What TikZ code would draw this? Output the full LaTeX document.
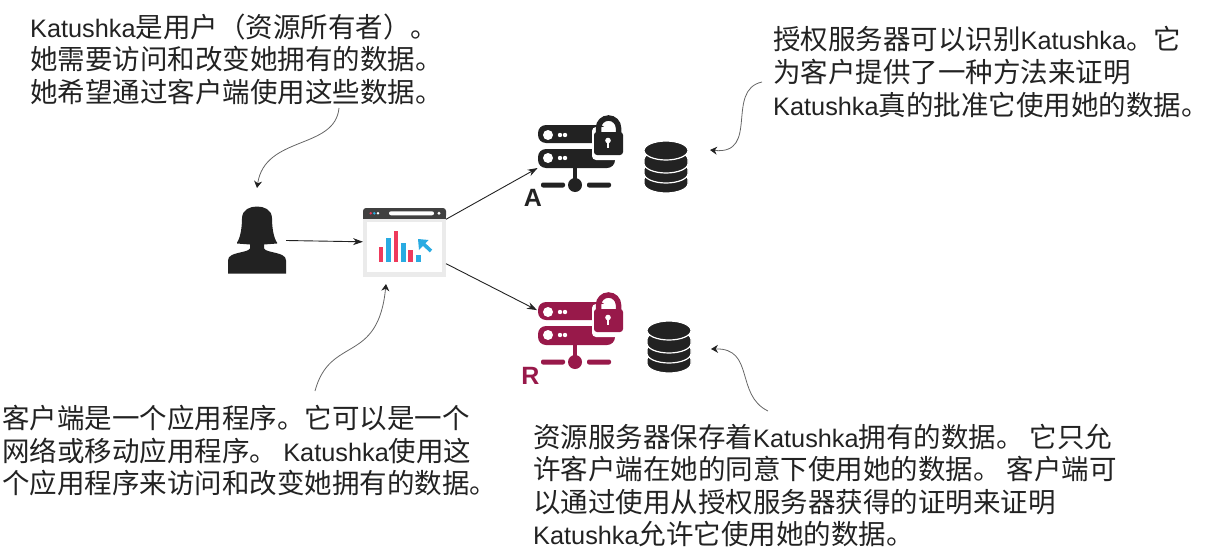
\documentclass[tikz,border=0pt]{standalone}
\usepackage{fontspec}
\usetikzlibrary{arrows.meta}
\setmainfont{Noto Sans CJK SC}
\newfontfamily\latfont[Scale=0.92]{Liberation Sans}
\newfontfamily\tagfont{Liberation Sans}
\newcommand{\kat}{{\latfont Katushka}}

\definecolor{inkgray}{HTML}{222222}
\definecolor{wine}{HTML}{98194A}
\definecolor{barpink}{HTML}{EE3A5C}
\definecolor{barblue}{HTML}{29ABE2}

\tikzset{
    note/.style={anchor=north west, inner sep=0pt, align=left, text=inkgray,
        font=\fontsize{27.5}{32.6}\selectfont},
    slot/.style={inner sep=0pt, outer sep=0pt},
    flow/.style={-{Stealth[length=10pt,width=7pt]}, inkgray, line width=0.9pt},
    remark/.style={-{Stealth[length=7pt,width=8pt,color=inkgray]}, black!60, line width=0.8pt},
    tag/.style={font=\fontsize{25}{25}\tagfont\bfseries, inner sep=0pt},
    pics/woman/.style={code={
        \fill[inkgray] (-20,36) .. controls (-17,32) and (-15,22) .. (-15,12)
            .. controls (-15,3) and (-7,0) .. (0,0)
            .. controls (7,0) and (15,3) .. (15,12)
            .. controls (15,22) and (17,32) .. (20,36) -- (20,37) -- (7,38) -- (7,42)
            .. controls (10,47) and (29,45) .. (29,54) -- (29,67) -- (-29,67) -- (-29,54)
            .. controls (-29,45) and (-10,47) .. (-7,42) -- (-7,38) -- (-20,37) -- cycle;
    }},
    pics/serverlock/.style={code={
        \fill[#1, rounded corners=8pt] (1,8) rectangle (70,26);
        \fill[#1, rounded corners=8pt] (1,32) rectangle (78,51);
        \foreach \y in {18,41} {
            \fill[white] (11,\y) circle (5);
            \fill[white] (23,\y) circle (2.2);
            \fill[white] (28,\y) circle (2.2);
        }
        \fill[#1] (36,51) rectangle (40,68);
        \fill[#1] (38,68) circle (7);
        \fill[#1, rounded corners=2pt] (4,65.5) rectangle (28,70.5);
        \fill[#1, rounded corners=2pt] (50,65.5) rectangle (74,70.5);
        \fill[white, rounded corners=4pt] (55,10) rectangle (92,43);
        \draw[#1, line width=5.5pt] (61.5,16) -- (61.5,11) arc[start angle=180, end angle=360, radius=10] -- (81.5,16);
        \fill[#1, rounded corners=3pt] (57,15) rectangle (86,38);
        \fill[white] (71,23.5) circle (2.8);
        \fill[white] (69.6,23.5) rectangle (72.4,31);
    }},
    pics/dbstack/.style={code={
        \foreach \y in {38.5,28.5,18.5} {
            \filldraw[inkgray, draw=white, line width=1.2pt] (-22,\y) -- (-22,\y+4)
                arc[start angle=180, end angle=0, x radius=22, y radius=9.5] -- (22,\y)
                arc[start angle=360, end angle=180, x radius=22, y radius=9.5] -- cycle;
        }
        \filldraw[inkgray, draw=white, line width=1.2pt] (0,9.5) ellipse [x radius=22, y radius=9.5];
    }}
}

\begin{document}
\begin{tikzpicture}[x=1pt, y=-1pt]
    \useasboundingbox (0,0) rectangle (1206,554);

    % notes
    \node[note] (noteowner) at (30,13.5) {\kat 是用户（资源所有者）。\\她需要访问和改变她拥有的数据。\\她希望通过客户端使用这些数据。};
    \node[note] (noteauth) at (773,26.5) {授权服务器可以识别\kat 。它\\为客户提供了一种方法来证明\\\kat 真的批准它使用她的数据。};
    \node[note] (noteclient) at (2,405) {客户端是一个应用程序。它可以是一个\\网络或移动应用程序。 \kat 使用这\\个应用程序来访问和改变她拥有的数据。};
    \node[note] (noteres) at (533,423.5) {资源服务器保存着\kat 拥有的数据。 它只允\\许客户端在她的同意下使用她的数据。 客户端可\\以通过使用从授权服务器获得的证明来证明\\\kat 允许它使用她的数据。};

    % person
    \node[slot, minimum width=58pt, minimum height=67pt] (person) at (257,240) {};
    \pic at (257,206.5) {woman};

    % browser window
    \node[slot, minimum width=83pt, minimum height=69pt] (client) at (404.5,242.5) {};
    \fill[black!8] (363,216) rectangle (446,277);
    \fill[white] (367,222) rectangle (442,272);
    \fill[black!75, rounded corners=3pt] (363,208) rectangle (446,218.5);
    \fill[black!75] (363,214) rectangle (446,218.5);
    \fill[barpink] (370.7,213.3) circle (1.4);
    \fill[barblue] (374.3,213.3) circle (1.4);
    \fill[white] (378,213.3) circle (1.4);
    \fill[white, rounded corners=2pt] (389,211.3) rectangle (434,215.3);
    \fill[white] (439,213.3) circle (1.6);
    \foreach \xa/\ytop/\col in {378.5/247.3/barpink, 386/237.7/barblue, 393.5/231/barpink,
                                401/243.3/barblue, 408/250/barpink, 415.7/255/barblue}
        \fill[\col] (\xa,\ytop) rectangle (\xa+4.8,262);
    \draw[barblue, line width=3.6pt] (423,243.5) -- (431,251);
    \fill[barblue] (418,239) -- (428.5,240) -- (419,250) -- cycle;

    % servers
    \node[slot, minimum width=78pt, minimum height=43pt] (serverA) at (576,146.5) {};
    \pic at (537,117) {serverlock=inkgray};
    \node[tag, text=inkgray] (tagA) at (533,198) {A};
    \pic at (666,141) {dbstack};

    \node[slot, minimum width=78pt, minimum height=44pt] (serverR) at (576,330) {};
    \pic at (537,294) {serverlock=wine};
    \node[tag, text=wine] (tagR) at (530.5,376) {R};
    \pic at (669,321) {dbstack};

    % arrows between parts
    \draw[flow] (person) -- (client);
    \draw[flow] (client) -- (serverA);
    \draw[flow] (client) -- (serverR);

    % remarks
    \coordinate (owneranchor) at (339,108);
    \coordinate (personmark) at (257,188);
    \coordinate (authanchor) at (762,82);
    \coordinate (authmark) at (710,150);
    \coordinate (clientanchor) at (315,391);
    \coordinate (clientmark) at (386,284);
    \coordinate (resanchor) at (768,411);
    \coordinate (resmark) at (711,349);
    \draw[remark] (owneranchor) .. controls (335,150) and (265,135) .. (personmark);
    \draw[remark] (authanchor) .. controls (725,90) and (760,155) .. (authmark);
    \draw[remark] (clientanchor) .. controls (330,335) and (378,365) .. (clientmark);
    \draw[remark] (resanchor) .. controls (735,395) and (755,348) .. (resmark);
\end{tikzpicture}
\end{document}
